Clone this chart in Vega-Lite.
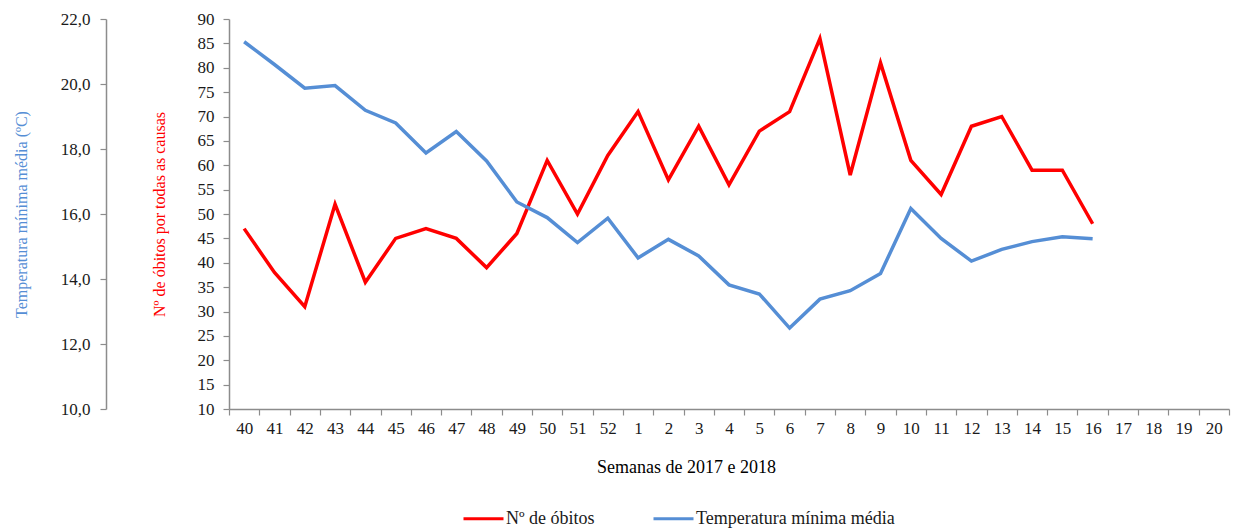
{
  "$schema": "https://vega.github.io/schema/vega-lite/v6.json",
  "width": 1000,
  "height": 390,
  "autosize": {"type": "none"},
  "padding": {"left": 229, "top": 19, "right": 8, "bottom": 123},
  "background": "white",
  "config": {
    "view": {"stroke": null},
    "font": "Liberation Serif",
    "axis": {
      "labelFont": "Liberation Serif",
      "titleFont": "Liberation Serif",
      "labelFontSize": 17,
      "titleFontSize": 16,
      "titleFontWeight": "normal",
      "labelColor": "#1a1a1a",
      "domainColor": "#8c8c8c",
      "tickColor": "#8c8c8c",
      "domainWidth": 1.5,
      "tickWidth": 1.2,
      "tickSize": 6,
      "grid": false
    },
    "legend": {"labelFont": "Liberation Serif", "labelFontSize": 18, "labelColor": "#1a1a1a", "labelLimit": 0}
  },
  "data": {
    "values": [
      {"semana": "40", "obitos": 47, "temp": 21.3},
      {"semana": "41", "obitos": 38, "temp": 20.6},
      {"semana": "42", "obitos": 31, "temp": 19.87},
      {"semana": "43", "obitos": 52, "temp": 19.95},
      {"semana": "44", "obitos": 36, "temp": 19.19},
      {"semana": "45", "obitos": 45, "temp": 18.8},
      {"semana": "46", "obitos": 47, "temp": 17.88},
      {"semana": "47", "obitos": 45, "temp": 18.54},
      {"semana": "48", "obitos": 39, "temp": 17.63},
      {"semana": "49", "obitos": 46, "temp": 16.37},
      {"semana": "50", "obitos": 61, "temp": 15.89},
      {"semana": "51", "obitos": 50, "temp": 15.12},
      {"semana": "52", "obitos": 62, "temp": 15.87},
      {"semana": "1", "obitos": 71, "temp": 14.65},
      {"semana": "2", "obitos": 57, "temp": 15.22},
      {"semana": "3", "obitos": 68, "temp": 14.71},
      {"semana": "4", "obitos": 56, "temp": 13.82},
      {"semana": "5", "obitos": 67, "temp": 13.54},
      {"semana": "6", "obitos": 71, "temp": 12.49},
      {"semana": "7", "obitos": 86, "temp": 13.38},
      {"semana": "8", "obitos": 58, "temp": 13.64},
      {"semana": "9", "obitos": 81, "temp": 14.17},
      {"semana": "10", "obitos": 61, "temp": 16.17},
      {"semana": "11", "obitos": 54, "temp": 15.25},
      {"semana": "12", "obitos": 68, "temp": 14.55},
      {"semana": "13", "obitos": 70, "temp": 14.91},
      {"semana": "14", "obitos": 59, "temp": 15.15},
      {"semana": "15", "obitos": 59, "temp": 15.3},
      {"semana": "16", "obitos": 48, "temp": 15.24}
    ]
  },
  "encoding": {
    "x": {
      "field": "semana",
      "type": "nominal",
      "sort": null,
      "scale": {
        "type": "band",
        "domain": ["40","41","42","43","44","45","46","47","48","49","50","51","52","1","2","3","4","5","6","7","8","9","10","11","12","13","14","15","16","17","18","19","20"],
        "paddingInner": 0,
        "paddingOuter": 0
      },
      "axis": {
        "title": "Semanas de 2017 e 2018",
        "labelAngle": 0,
        "tickBand": "extent",
        "labelPadding": 5,
        "titleFontSize": 18,
        "titleX": 457,
        "titleY": 58,
        "titleBaseline": "middle",
        "titleAnchor": null,
        "titleAlign": "center"
      }
    }
  },
  "layer": [
    {
      "mark": {"type": "line", "strokeWidth": 3.5},
      "encoding": {
        "y": {
          "field": "obitos",
          "type": "quantitative",
          "scale": {"domain": [10, 90], "nice": false, "zero": false},
          "axis": {
            "title": "Nº de óbitos por todas as causas",
            "titleColor": "#ff0000",
            "values": [10,15,20,25,30,35,40,45,50,55,60,65,70,75,80,85,90],
            "labelPadding": 9,
            "titleX": -70,
            "titleBaseline": "middle"
          }
        },
        "color": {
          "datum": "Nº de óbitos",
          "type": "nominal",
          "scale": {"domain": ["Nº de óbitos", "Temperatura mínima média"], "range": ["#ff0000", "#558ed5"]},
          "legend": {
            "title": null,
            "orient": "none",
            "direction": "horizontal",
            "legendX": 233,
            "legendY": 478,
            "symbolType": "stroke",
            "symbolSize": 1600,
            "symbolStrokeWidth": 3,
            "labelOffset": 1,
            "columnPadding": 52
          }
        }
      }
    },
    {
      "mark": {"type": "line", "strokeWidth": 3.5},
      "encoding": {
        "y": {
          "field": "temp",
          "type": "quantitative",
          "scale": {"domain": [10, 22], "nice": false, "zero": false},
          "axis": {
            "orient": "left",
            "offset": 123,
            "title": "Temperatura mínima média (ºC)",
            "titleColor": "#558ed5",
            "values": [10,12,14,16,18,20,22],
            "labelExpr": "replace(format(datum.value, '.1f'), '.', ',')",
            "labelPadding": 10,
            "titleX": -85,
            "titleBaseline": "middle"
          }
        },
        "color": {"datum": "Temperatura mínima média", "type": "nominal"}
      }
    }
  ],
  "resolve": {"scale": {"y": "independent"}, "axis": {"y": "independent"}}
}
